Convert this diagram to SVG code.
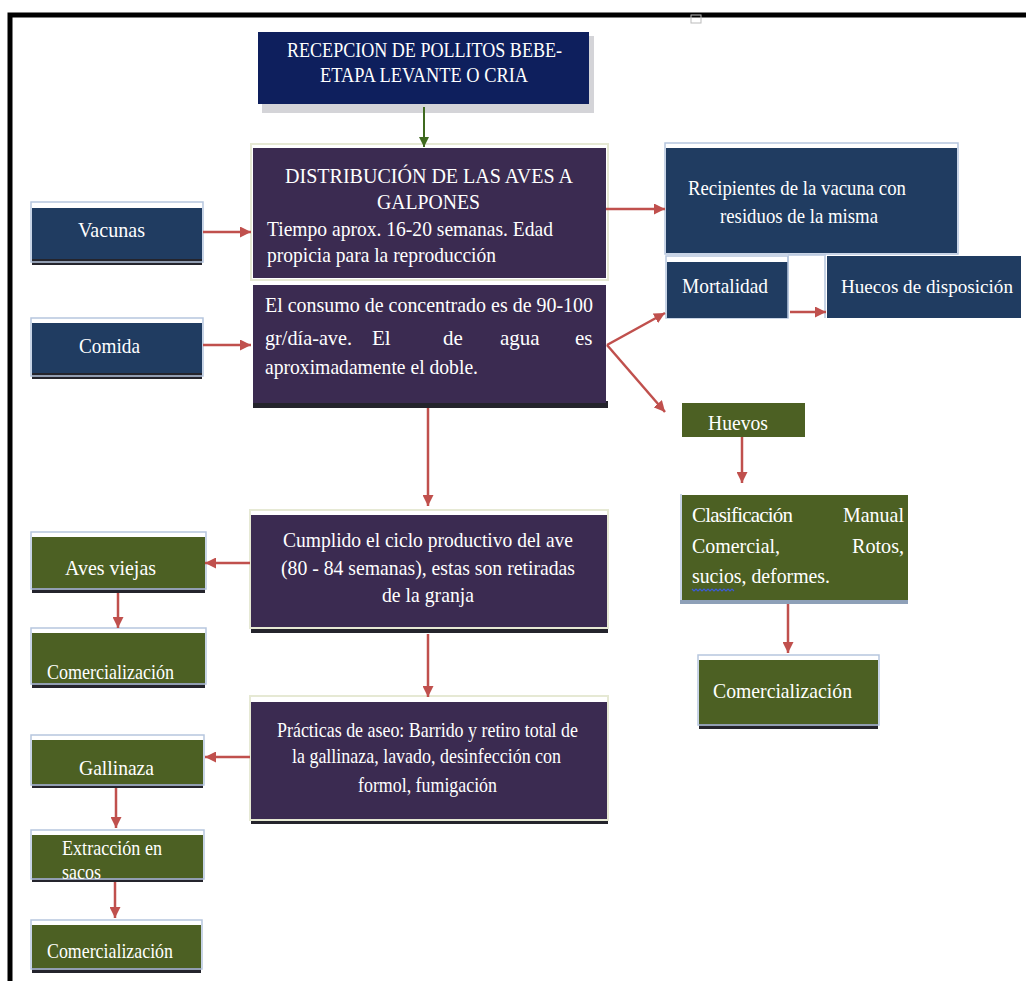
<svg xmlns="http://www.w3.org/2000/svg" width="1026" height="981" viewBox="0 0 1026 981">
<defs>
<style>
.t{font-family:"Liberation Serif","Times New Roman",serif;fill:#ffffff;font-size:21px}
.navy{fill:#0e1f5d}
.purple{fill:#3b2b51}
.blue{fill:#203c61}
.green{fill:#4c6023}
.hl{fill:none;stroke:#b6c6de;stroke-width:1.5}
.cr{fill:none;stroke:#e6e9d4;stroke-width:2}
.sh{fill:#24242c}
.conn{stroke:#c0504d;stroke-width:2.5;fill:none}
.gconn{stroke:#3f6a1f;stroke-width:2;fill:none}
</style>
<marker id="ar" viewBox="0 0 10 10" refX="10" refY="5" markerWidth="11" markerHeight="11" markerUnits="userSpaceOnUse" orient="auto">
<path d="M0,0 L10,5 L0,10 z" fill="#c0504d"/>
</marker>
<marker id="ag" viewBox="0 0 10 10" refX="10" refY="5" markerWidth="10" markerHeight="10" markerUnits="userSpaceOnUse" orient="auto">
<path d="M0,0 L10,5 L0,10 z" fill="#3f6a1f"/>
</marker>
</defs>
<rect width="1026" height="981" fill="#ffffff"/>
<path d="M10 981 V15 H1026" fill="none" stroke="#000" stroke-width="5"/>
<rect x="691" y="15" width="10" height="8" fill="none" stroke="#bbb" stroke-width="1"/>

<g id="recepcion">
<rect x="262" y="36" width="332" height="77" fill="#d4d4d8"/>
<rect x="258" y="32" width="331" height="72" class="navy"/>
<text class="t" x="287" y="57" textLength="275" lengthAdjust="spacingAndGlyphs">RECEPCION DE POLLITOS BEBE-</text>
<text class="t" x="320" y="82" textLength="208" lengthAdjust="spacingAndGlyphs">ETAPA LEVANTE O CRIA</text>
</g>

<g id="distribucion">
<rect x="251" y="144" width="357" height="136" class="cr"/>
<rect x="253" y="148" width="353" height="130" class="purple"/>
<text class="t" x="285" y="183" textLength="288" lengthAdjust="spacingAndGlyphs">DISTRIBUCIÓN DE LAS AVES A</text>
<text class="t" x="377" y="209" textLength="103" lengthAdjust="spacingAndGlyphs">GALPONES</text>
<text class="t" x="267" y="236" textLength="286" lengthAdjust="spacingAndGlyphs">Tiempo aprox. 16-20 semanas. Edad</text>
<text class="t" x="267" y="262" textLength="229" lengthAdjust="spacingAndGlyphs">propicia para la reproducción</text>
</g>

<g id="consumo">
<rect x="253" y="401" width="355" height="7" class="sh"/>
<rect x="253" y="285" width="353" height="118" class="purple"/>
<text class="t" x="265" y="312" textLength="328" lengthAdjust="spacingAndGlyphs">El consumo de concentrado es de 90-100</text>
<text class="t" y="345"><tspan x="265" textLength="87" lengthAdjust="spacingAndGlyphs">gr/día-ave.</tspan><tspan x="372">El</tspan><tspan x="443">de</tspan><tspan x="500">agua</tspan><tspan x="575">es</tspan></text>
<text class="t" x="265" y="374" textLength="213" lengthAdjust="spacingAndGlyphs">aproximadamente el doble.</text>
</g>

<g id="vacunas">
<rect x="32" y="258" width="170" height="7" class="sh"/>
<rect x="31" y="202" width="172" height="60" class="hl"/>
<rect x="32" y="208" width="170" height="51" class="blue"/>
<text class="t" x="78" y="237" textLength="67" lengthAdjust="spacingAndGlyphs">Vacunas</text>
</g>

<g id="comida">
<rect x="32" y="372" width="170" height="7" class="sh"/>
<rect x="31" y="318" width="172" height="58" class="hl"/>
<rect x="32" y="323" width="170" height="50" class="blue"/>
<text class="t" x="79" y="353" textLength="61" lengthAdjust="spacingAndGlyphs">Comida</text>
</g>

<g id="recipientes">
<rect x="665" y="143" width="293" height="111" class="hl"/>
<rect x="666" y="148" width="291" height="105" class="blue"/>
<text class="t" x="688" y="195" textLength="218" lengthAdjust="spacingAndGlyphs">Recipientes de la vacuna con</text>
<text class="t" x="720" y="223" textLength="158" lengthAdjust="spacingAndGlyphs">residuos de la misma</text>
</g>

<g id="mortalidad">
<rect x="666" y="256" width="122" height="62" class="hl"/>
<rect x="667" y="262" width="121" height="56" class="blue"/>
<text class="t" x="682" y="293" textLength="86" lengthAdjust="spacingAndGlyphs">Mortalidad</text>
</g>

<g id="hueco-vacio">
<path d="M788 255 H826 M788 256 V318 M825 256 V318" fill="none" stroke="#b6c6de" stroke-width="1.5"/>
</g>

<g id="huecos">
<rect x="827" y="256" width="194" height="62" class="blue"/>
<text class="t" x="841" y="293" style="font-size:19px" textLength="172" lengthAdjust="spacingAndGlyphs">Huecos de disposición</text>
</g>

<g id="huevos">
<rect x="682" y="403" width="123" height="34" class="green"/>
<text class="t" x="708" y="430" textLength="60" lengthAdjust="spacingAndGlyphs">Huevos</text>
</g>

<g id="clasificacion">
<rect x="680" y="600" width="228" height="4" fill="#8ea0b8"/>
<path d="M681 494 V600" stroke="#b6c6de" stroke-width="1.5"/>
<rect x="682" y="495" width="226" height="105" class="green"/>
<text class="t" x="692" y="522" textLength="101" lengthAdjust="spacing">Clasificación</text>
<text class="t" x="843" y="522" textLength="61" lengthAdjust="spacingAndGlyphs">Manual</text>
<text class="t" x="692" y="553" textLength="88" lengthAdjust="spacingAndGlyphs">Comercial,</text>
<text class="t" x="852" y="553" textLength="52" lengthAdjust="spacingAndGlyphs">Rotos,</text>
<text class="t" x="692" y="583" textLength="138" lengthAdjust="spacingAndGlyphs">sucios, deformes.</text>
<path d="M692 589 l2 2 l2 -2 l2 2 l2 -2 l2 2 l2 -2 l2 2 l2 -2 l2 2 l2 -2 l2 2 l2 -2 l2 2 l2 -2 l2 2 l2 -2 l2 2 l2 -2 l2 2 l2 -2 l2 2" fill="none" stroke="#3b5bd6" stroke-width="1.2"/>
</g>

<g id="comercializacion-huevos">
<rect x="699" y="723" width="179" height="6" class="sh"/>
<rect x="698" y="655" width="181" height="70" class="hl"/>
<rect x="699" y="660" width="179" height="64" class="green"/>
<text class="t" x="713" y="698" textLength="139" lengthAdjust="spacingAndGlyphs">Comercialización</text>
</g>

<g id="cumplido">
<rect x="251" y="625" width="357" height="8" class="sh"/>
<rect x="250" y="510" width="358" height="118" class="cr"/>
<rect x="251" y="515" width="356" height="112" class="purple"/>
<text class="t" x="283" y="547" textLength="290" lengthAdjust="spacingAndGlyphs">Cumplido el ciclo productivo del ave</text>
<text class="t" x="281" y="575" textLength="294" lengthAdjust="spacingAndGlyphs">(80 - 84 semanas), estas son retiradas</text>
<text class="t" x="382" y="602" textLength="92" lengthAdjust="spacingAndGlyphs">de la granja</text>
</g>

<g id="aves-viejas">
<rect x="32" y="587" width="173" height="6" class="sh"/>
<rect x="31" y="532" width="175" height="57" class="hl"/>
<rect x="32" y="537" width="173" height="51" class="green"/>
<text class="t" x="65" y="575" textLength="91" lengthAdjust="spacingAndGlyphs">Aves viejas</text>
</g>

<g id="comercializacion-aves">
<rect x="32" y="682" width="173" height="6" class="sh"/>
<rect x="31" y="628" width="175" height="56" class="hl"/>
<rect x="32" y="633" width="173" height="50" class="green"/>
<text class="t" x="47" y="679" textLength="127" lengthAdjust="spacingAndGlyphs">Comercialización</text>
</g>

<g id="practicas">
<rect x="251" y="816" width="357" height="8" class="sh"/>
<rect x="250" y="696" width="358" height="124" class="cr"/>
<rect x="251" y="702" width="356" height="117" class="purple"/>
<text class="t" x="277" y="737" textLength="301" lengthAdjust="spacingAndGlyphs">Prácticas de aseo: Barrido y retiro total de</text>
<text class="t" x="292" y="763" textLength="269" lengthAdjust="spacingAndGlyphs">la gallinaza, lavado, desinfección con</text>
<text class="t" x="358" y="792" textLength="139" lengthAdjust="spacingAndGlyphs">formol, fumigación</text>
</g>

<g id="gallinaza">
<rect x="32" y="783" width="171" height="5" class="sh"/>
<rect x="31" y="735" width="173" height="50" class="hl"/>
<rect x="32" y="740" width="171" height="44" class="green"/>
<text class="t" x="79" y="775" textLength="75" lengthAdjust="spacingAndGlyphs">Gallinaza</text>
</g>

<g id="extraccion">
<rect x="32" y="877" width="171" height="5" class="sh"/>
<rect x="31" y="830" width="173" height="49" class="hl"/>
<rect x="32" y="835" width="171" height="43" class="green"/>
<text class="t" x="62" y="855" textLength="100" lengthAdjust="spacingAndGlyphs">Extracción en</text>
<text class="t" x="62" y="879" textLength="39" lengthAdjust="spacingAndGlyphs">sacos</text>
</g>

<g id="comercializacion-gallinaza">
<rect x="32" y="967" width="169" height="6" class="sh"/>
<rect x="31" y="920" width="171" height="49" class="hl"/>
<rect x="32" y="925" width="169" height="43" class="green"/>
<text class="t" x="47" y="958" textLength="126" lengthAdjust="spacingAndGlyphs">Comercialización</text>
</g>

<g id="connectors">
<path class="gconn" d="M424 107 V147" marker-end="url(#ag)"/>
<path class="conn" d="M203 232 H251" marker-end="url(#ar)"/>
<path class="conn" d="M203 345 H251" marker-end="url(#ar)"/>
<path class="conn" d="M606 209 H665" marker-end="url(#ar)"/>
<path class="conn" d="M607 345 L665 313" marker-end="url(#ar)"/>
<path class="conn" d="M607 345 L665 412" marker-end="url(#ar)"/>
<path class="conn" d="M790 312 H826" marker-end="url(#ar)"/>
<path class="conn" d="M742 437 V483" marker-end="url(#ar)"/>
<path class="conn" d="M788 604 V653" marker-end="url(#ar)"/>
<path class="conn" d="M428 408 V506" marker-end="url(#ar)"/>
<path class="conn" d="M250 563 H205" marker-end="url(#ar)"/>
<path class="conn" d="M118 593 V628" marker-end="url(#ar)"/>
<path class="conn" d="M428 634 V697" marker-end="url(#ar)"/>
<path class="conn" d="M250 757 H205" marker-end="url(#ar)"/>
<path class="conn" d="M116 788 V828" marker-end="url(#ar)"/>
<path class="conn" d="M115 882 V918" marker-end="url(#ar)"/>
</g>
</svg>
